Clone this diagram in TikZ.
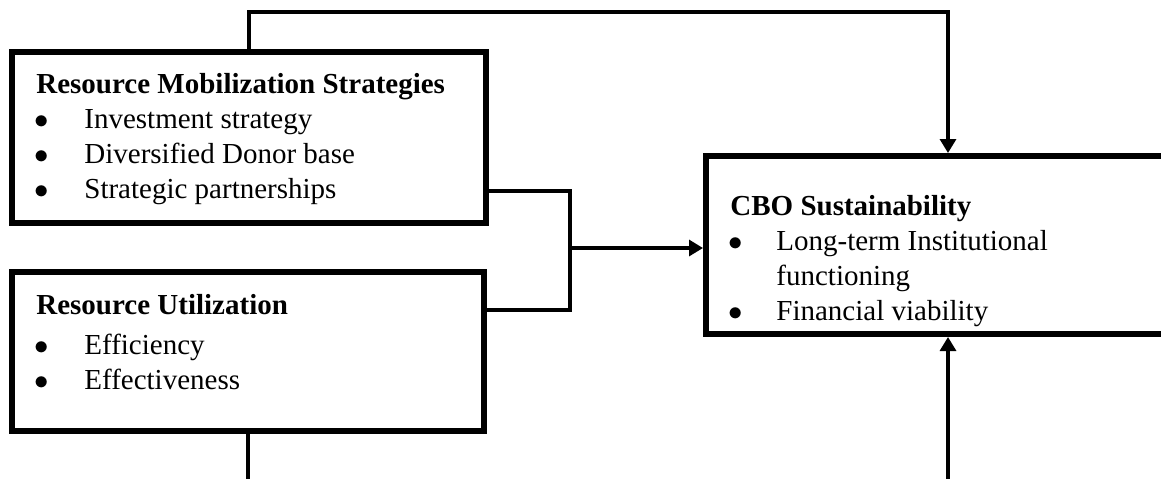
\documentclass[tikz,border=0pt]{standalone}
\usepackage{fontspec}
\setmainfont{Liberation Serif}
\usepackage{tikz}
\usetikzlibrary{arrows.meta,positioning}
\tikzset{
    %Define standard arrow tip
    >={Triangle[width=8pt,length=7pt]},
    %Define style for boxes
    block/.style={
           rectangle,
           draw=black,
           line width=3pt,
           inner sep=0pt},
    blocktext/.style={
           inner sep=0pt,
           font=\fontsize{14.5}{17.5}\selectfont},
    % Define line style
    conn/.style={
           line width=1.6pt}
}
\newcommand{\bul}{\hspace{-1pt}$\bullet$}
\begin{document}
\begin{tikzpicture}[x=0.5pt,y=-0.5pt,arr/.style={conn,->}]
\useasboundingbox (0,0) rectangle (1161,478);
\clip (0,0) rectangle (1161,478);
\node[block, minimum width=237pt, minimum height=85.5pt](mob) at (249,137.5){};
\node[block, minimum width=236pt, minimum height=79.5pt](util) at (248,351.5){};
\node[block, minimum width=242pt, minimum height=89pt](sust) at (948,245){};
\node[blocktext, below right=9.75pt and 13.5pt of mob.north west](mobtxt){%
\begin{tabular}{@{}p{24pt}@{}l@{}}
\multicolumn{2}{@{}l@{}}{\textbf{Resource Mobilization Strategies}}\\
\bul & Investment strategy\\
\bul & Diversified Donor base\\
\bul & Strategic partnerships
\end{tabular}};
\node[blocktext, below right=10.25pt and 13.5pt of util.north west](utiltxt){%
\begin{tabular}{@{}p{24pt}@{}l@{}}
\multicolumn{2}{@{}l@{}}{\textbf{Resource Utilization}}\\[2.5pt]
\bul & Efficiency\\
\bul & Effectiveness
\end{tabular}};
\node[blocktext, below right=18.75pt and 13.5pt of sust.north west](susttxt){%
\begin{tabular}{@{}p{23pt}@{}l@{}}
\multicolumn{2}{@{}l@{}}{\textbf{CBO Sustainability}}\\
\bul & Long-term Institutional\\
 & functioning\\
\bul & Financial viability
\end{tabular}};
\coordinate (top) at (0,12);
\coordinate (bot) at (0,482);
\coordinate (jn) at (570,248);
\draw[arr] (mob.north) -- (mob.north |- top) -| (sust.north);
\draw[conn] ([yshift=17.5pt]mob.south east) -| (jn) |- ([yshift=-20.5pt]util.north east);
\draw[arr] (jn) -- (jn -| sust.west);
\draw[conn] (util.south) -- (util.south |- bot);
\draw[arr] (sust.south |- bot) -- (sust.south);
\end{tikzpicture}
\end{document}
